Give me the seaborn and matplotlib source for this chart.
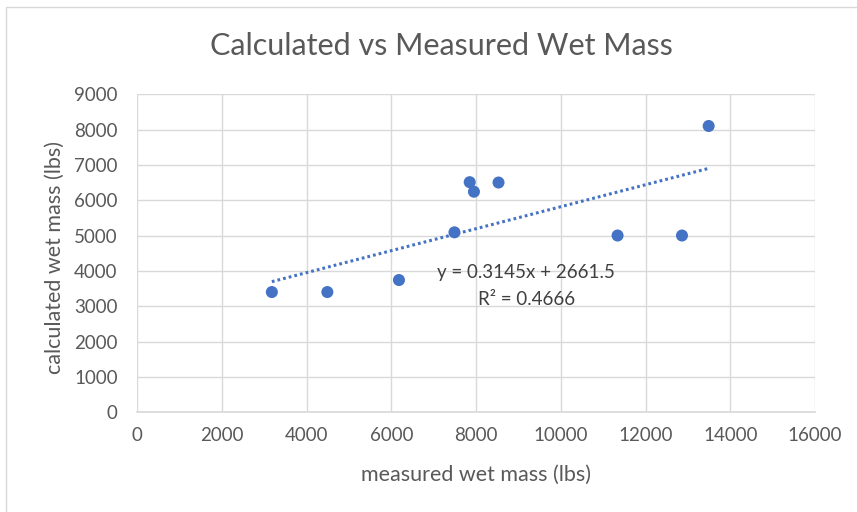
import numpy as np
import pandas as pd
import matplotlib
matplotlib.use("Agg")
import matplotlib.pyplot as plt
import seaborn as sns
from matplotlib.patches import Rectangle

# values
measured = [3180, 4490, 6180, 7490, 7850, 7950, 8530, 11340, 12860, 13490]
calculated = [3400, 3400, 3740, 5090, 6510, 6240, 6500, 5000, 5000, 8100]
x_ticks = [0, 2000, 4000, 6000, 8000, 10000, 12000, 14000, 16000]
y_ticks = [0, 1000, 2000, 3000, 4000, 5000, 6000, 7000, 8000, 9000]
eq_text = "y = 0.3145x + 2661.5"
r2_text = "R\u00b2 = 0.4666"

df = pd.DataFrame({"measured": measured, "calculated": calculated})

sns.set_theme(style="white")
plt.rcParams["font.family"] = ["Lato", "DejaVu Sans"]

blue = "#4472C4"
grid_c = "#D9D9D9"
text_c = "#595959"

fig = plt.figure(figsize=(8.57, 5.12), dpi=100)
ax = fig.add_axes([0.160, 0.195, 0.791, 0.621])

sns.regplot(data=df, x="measured", y="calculated", ax=ax, scatter=False, ci=None,
            line_kws=dict(color=blue, lw=2.2, linestyle=(0, (0.9, 1.0))))
sns.scatterplot(data=df, x="measured", y="calculated", ax=ax, color=blue,
                s=75, edgecolor="none", zorder=3)

ax.set_xlim(0, 16000)
ax.set_ylim(0, 9000)
ax.set_xticks(x_ticks)
ax.set_yticks(y_ticks)
ax.grid(True, color=grid_c, lw=1)
ax.set_axisbelow(True)
for s in ["top", "right", "left"]:
    ax.spines[s].set_visible(False)
ax.spines["bottom"].set_color(grid_c)
ax.tick_params(axis="both", length=0, labelsize=13.5, labelcolor=text_c)
ax.tick_params(axis="x", pad=11)
ax.tick_params(axis="y", pad=14)

ax.set_xlabel("measured wet mass (lbs)", fontsize=15.5, color=text_c)
ax.set_ylabel("calculated wet mass (lbs)", fontsize=15.5, color=text_c)
ax.xaxis.set_label_coords(0.5, -0.197)
ax.xaxis.label.set_va("center")
ax.yaxis.set_label_coords(-0.1214, 0.487)
ax.yaxis.label.set_va("center")

fig.text(0.5154, 0.910, "Calculated vs Measured Wet Mass", ha="center", va="center",
         fontsize=22, color=text_c)

ax.text(9180, 3940, eq_text, ha="center", va="center", fontsize=13.5, color="#404040")
ax.text(9200, 3200, r2_text, ha="center", va="center", fontsize=13.5, color="#404040")

# chart border
fig.patches.append(Rectangle((6 / 857, -0.01), 0.995, 1 - 7 / 512 + 0.01,
                             transform=fig.transFigure, fill=False,
                             edgecolor=grid_c, lw=1))

fig.savefig("out.png", dpi=100, facecolor="white")
